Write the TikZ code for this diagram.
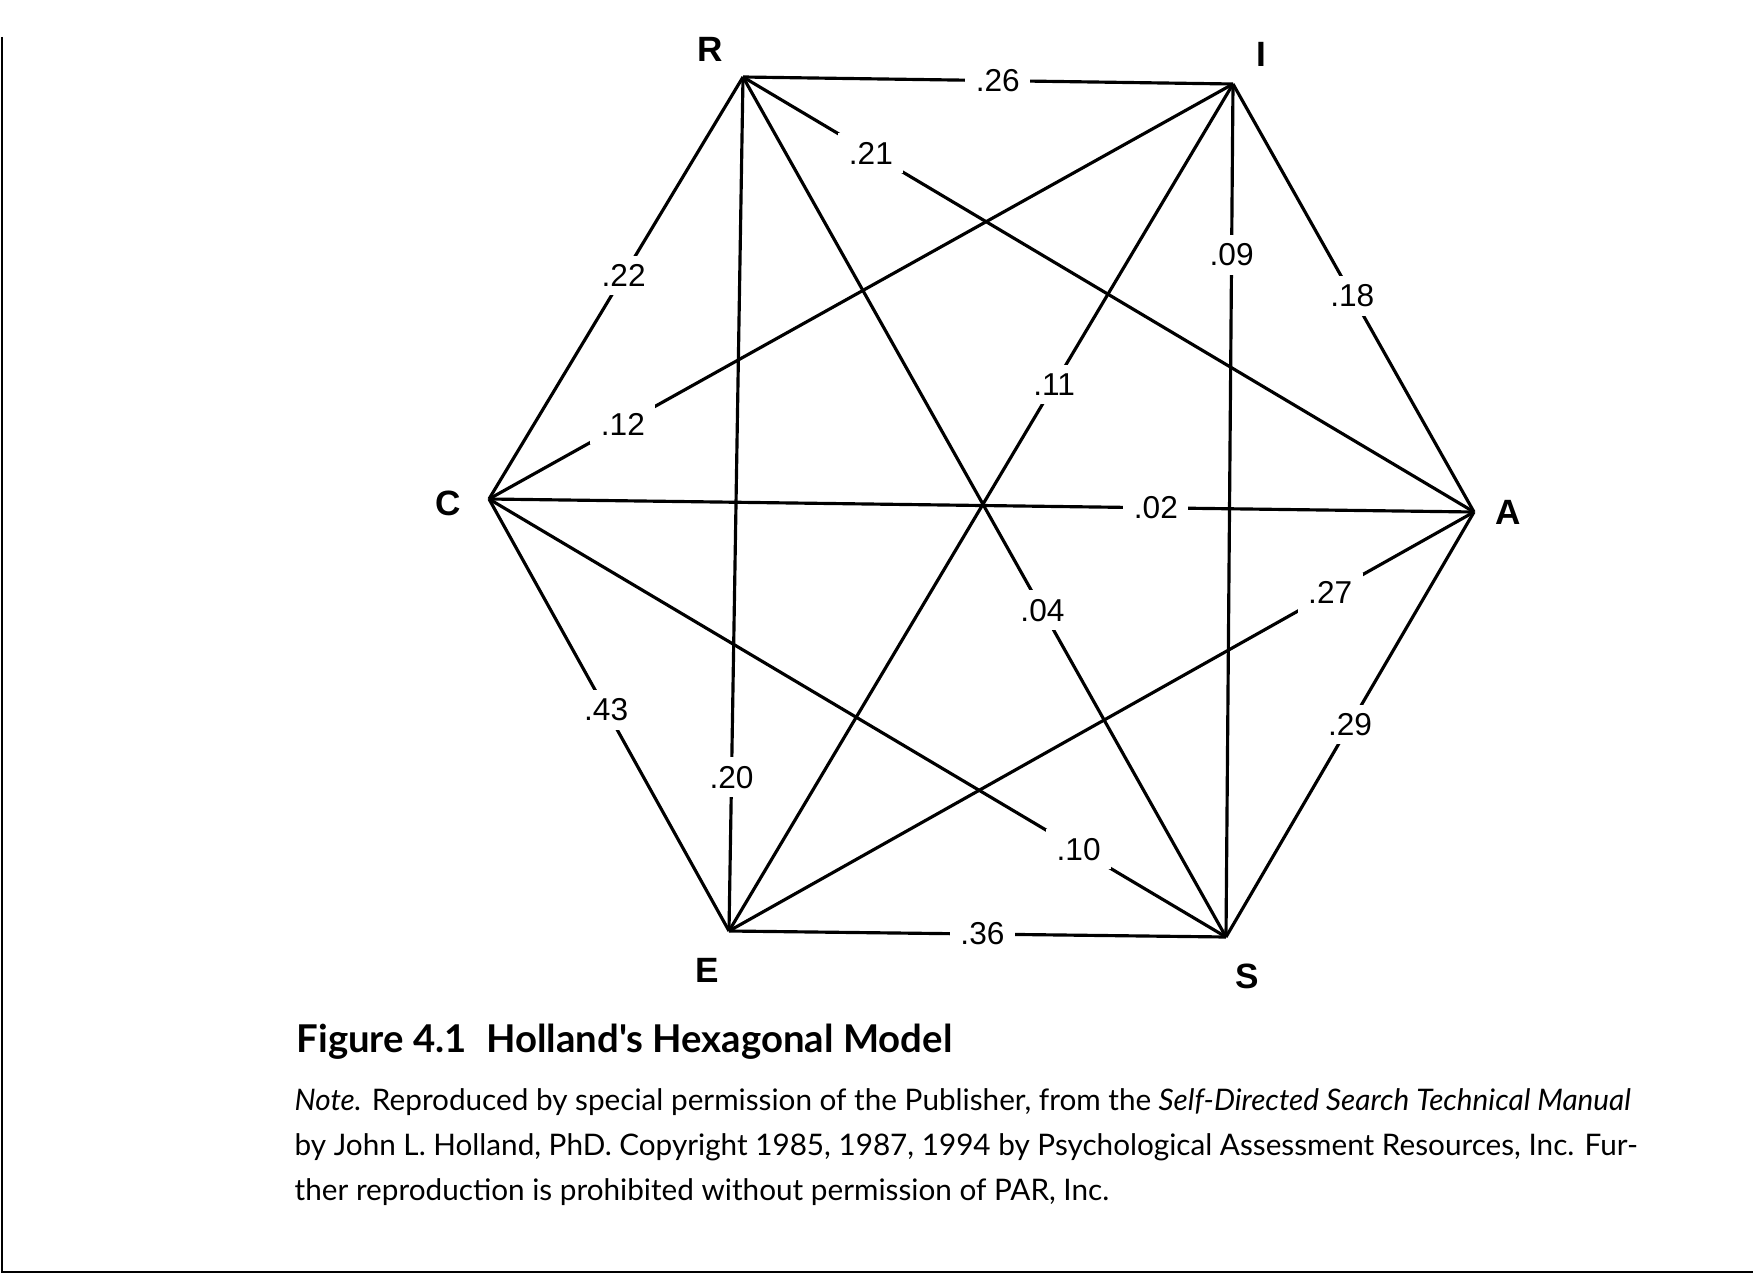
\documentclass[tikz,border=0pt]{standalone}
\usepackage{fontspec}
\setmainfont{Liberation Sans}
\newfontfamily\capfont{Lato}
\usetikzlibrary{positioning}

\tikzset{
  vert/.style={font=\fontsize{10}{12}\selectfont\bfseries},
  conn/.style={line width=0.9pt},
  wt/.style={fill=white, inner xsep=3pt, inner ysep=2.5pt, font=\fontsize{9}{11}\selectfont}
}

\begin{document}
\begin{tikzpicture}[x=0.1mm, y=-0.1mm]

  \useasboundingbox (0,0) rectangle (1753,1275);

  % Define nodes
  \coordinate (r) at (743,77);
  \coordinate (i) at (1233,84);
  \coordinate (a) at (1474,512);
  \coordinate (s) at (1226,937);
  \coordinate (e) at (729,931);
  \coordinate (c) at (489,499);

  \node[vert] (rl) at (710,49)  {R};
  \node[vert] (il) at (1261,54) {I};
  \node[vert] (al) at (1508,512) {A};
  \node[vert] (sl) at (1247,976) {S};
  \node[vert] (el) at (707,970) {E};
  \node[vert] (cl) at (448,503) {C};

  % Connect the nodes
  \draw[conn] (r) -- node[wt, pos=0.52]  {.26} (i);
  \draw[conn] (r) -- node[wt, pos=0.175] {.21} (a);
  \draw[conn] (r) -- node[wt, pos=0.47]  {.22} (c);
  \draw[conn] (r) -- node[wt, pos=0.62]  {.04} (s);
  \draw[conn] (r) -- node[wt, pos=0.82]  {.20} (e);
  \draw[conn] (i) -- node[wt, pos=0.495] {.18} (a);
  \draw[conn] (i) -- node[wt, pos=0.2]   {.09} (s);
  \draw[conn] (i) -- node[wt, pos=0.355] {.11} (e);
  \draw[conn] (i) -- node[wt, pos=0.82]  {.12} (c);
  \draw[conn] (c) -- node[wt, pos=0.677] {.02} (a);
  \draw[conn] (a) -- node[wt, pos=0.193] {.27} (e);
  \draw[conn] (a) -- node[wt, pos=0.5]   {.29} (s);
  \draw[conn] (c) -- node[wt, pos=0.488] {.43} (e);
  \draw[conn] (c) -- node[wt, pos=0.80]  {.10} (s);
  \draw[conn] (e) -- node[wt, pos=0.51]  {.36} (s);

  % Caption
  \node[anchor=base west, inner sep=0pt, font=\capfont\fontsize{10.9}{12}\selectfont\bfseries] (title) at (296,1052)
    {Figure 4.1\enspace Holland's Hexagonal Model};
  \node[anchor=base west, inner sep=0pt, font=\capfont\fontsize{8.45}{12}\selectfont] (note1) at (294,1110)
    {\textit{Note.} Reproduced by special permission of the Publisher, from the \textit{Self-Directed Search Technical Manual}};
  \node[anchor=base west, inner sep=0pt, font=\capfont\fontsize{8.45}{12}\selectfont] (note2) at (294,1155)
    {by John L. Holland, PhD. Copyright 1985, 1987, 1994 by Psychological Assessment Resources, Inc. Fur-};
  \node[anchor=base west, inner sep=0pt, font=\capfont\fontsize{8.45}{12}\selectfont] (note3) at (294,1200)
    {ther reproduction is prohibited without permission of PAR, Inc.};

  % Scan edges
  \draw[line width=0.6pt] (2,37) -- (2,1272) -- (1753,1272);

\end{tikzpicture}
\end{document}
